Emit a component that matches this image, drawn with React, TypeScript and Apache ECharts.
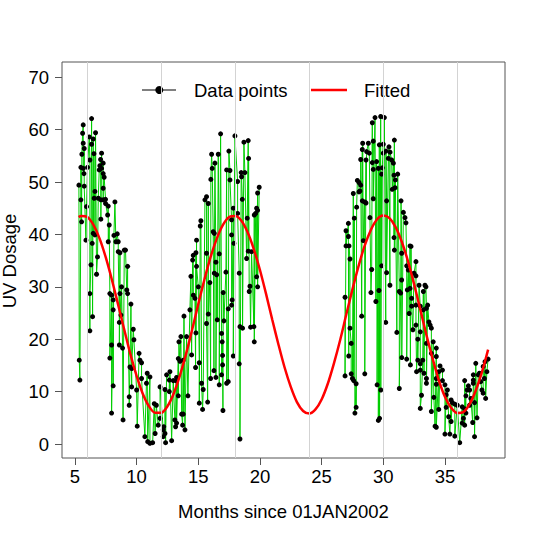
import React, { useEffect, useRef } from "react";
import * as echarts from "echarts";

// Measured UV dosage: [months since 01JAN2002, UV dosage]
const period1: [number, number][] = [
  [5.32, 49.4], [5.35, 16.0], [5.4, 12.2], [5.48, 46.6], [5.48, 52.8], [5.54, 42.4], [5.56, 55.3],
  [5.62, 59.3], [5.67, 60.9], [5.67, 57.4], [5.67, 52.6], [5.73, 51.6], [5.75, 56.4], [5.75, 49.2],
  [5.89, 38.9], [5.94, 45.3], [6.02, 52.8], [6.16, 58.6], [6.21, 54.2], [6.21, 21.6], [6.21, 28.7],
  [6.3, 34.2], [6.35, 62.1], [6.35, 57.2], [6.4, 38.3], [6.43, 24.3], [6.48, 58.2], [6.48, 40.2],
  [6.54, 55.4], [6.56, 46.9], [6.62, 48.2], [6.62, 39.9], [6.67, 59.4], [6.75, 32.4], [6.83, 35.7],
  [6.89, 46.9], [6.97, 52.3], [7.02, 53.1], [7.08, 54.3], [7.1, 46.6], [7.1, 42.9], [7.16, 55.5],
  [7.16, 52.6], [7.29, 53.6], [7.29, 51.6], [7.29, 46.6], [7.29, 48.8], [7.37, 50.9], [7.48, 46.7],
  [7.48, 45.9], [7.65, 43.7], [7.7, 45.4], [7.7, 38.6], [7.78, 41.8], [7.83, 28.7], [7.83, 16.4],
  [7.97, 28.4], [7.97, 18.9], [7.97, 5.9], [8.1, 27.5], [8.1, 25.6], [8.1, 11.1], [8.16, 39.8],
  [8.24, 46.2], [8.32, 38.6], [8.43, 40.1], [8.51, 38.6], [8.51, 36.7], [8.6, 23.2], [8.6, 18.9],
  [8.65, 36.5], [8.65, 28.7], [8.73, 24.6], [8.78, 30.0], [8.86, 18.3], [8.9, 4.6], [9.0, 37.0],
  [9.1, 37.0], [9.2, 29.4], [9.27, 33.9], [9.27, 28.7], [9.4, 9.0], [9.4, 7.4], [9.46, 14.7],
  [9.54, 26.7], [9.6, 10.9], [9.6, 14.4], [9.73, 21.9], [9.78, 19.9], [10.0, 10.3], [10.05, 3.4],
  [10.2, 17.3], [10.27, 16.0], [10.4, 15.5], [10.4, 12.5], [10.67, 1.4], [10.8, 11.6], [10.86, 13.5],
  [10.9, 0.45], [11.08, 12.8], [11.08, 0.13], [11.3, 0.25], [11.43, 7.7], [11.5, 2.0], [11.6, 7.4],
  [11.75, 3.6], [11.9, 4.9], [11.9, 10.9], [12.16, 2.7], [12.16, 1.4], [12.2, 3.3], [12.3, 2.0],
  [12.3, 10.4], [12.35, 0.25], [12.43, 13.2], [12.65, 12.2], [12.65, 10.0], [12.7, 13.8], [12.84, 0.63],
  [12.97, 12.1], [13.1, 4.6], [13.16, 3.3], [13.19, 12.1], [13.24, 12.7], [13.24, 4.0], [13.38, 16.3],
  [13.38, 9.2], [13.43, 19.5], [13.51, 15.8], [13.59, 20.5], [13.65, 5.7], [13.73, 3.6], [13.78, 16.0],
  [13.78, 5.7], [13.84, 24.4], [13.92, 2.7], [14.05, 20.5], [14.16, 9.2], [14.32, 25.6], [14.4, 32.0],
  [14.46, 17.0], [14.54, 35.1], [14.59, 36.0], [14.6, 28.4], [14.73, 27.8], [14.78, 14.6], [14.81, 36.5],
  [14.81, 21.2], [14.86, 38.9], [14.86, 33.9], [15.0, 30.0], [15.08, 15.5], [15.08, 7.8], [15.16, 41.6],
  [15.21, 42.6], [15.27, 11.6], [15.35, 6.6], [15.4, 10.4], [15.54, 46.6], [15.67, 47.2], [15.67, 36.4],
  [15.67, 23.0], [15.76, 8.0], [15.81, 45.9], [15.81, 24.8], [15.94, 30.8], [16.0, 12.5], [16.02, 50.5],
  [16.08, 55.3], [16.13, 52.6], [16.21, 40.5], [16.27, 14.0], [16.3, 40.2], [16.3, 32.6], [16.35, 53.6],
  [16.43, 34.7], [16.43, 12.7], [16.49, 32.3], [16.54, 23.7], [16.62, 55.3], [16.7, 36.3], [16.7, 11.3],
  [16.81, 59.2], [16.89, 21.1], [16.89, 13.2], [16.94, 19.5], [16.97, 16.9], [16.97, 15.1], [17.0, 6.4],
  [17.02, 28.9], [17.08, 23.5], [17.24, 32.8], [17.3, 52.3], [17.3, 11.6], [17.43, 25.8], [17.43, 11.9],
  [17.48, 55.9], [17.57, 52.2], [17.57, 50.4], [17.7, 42.8], [17.7, 39.9], [17.7, 26.5], [17.75, 27.5],
  [17.84, 45.0], [17.84, 16.8], [17.89, 38.3], [17.97, 58.8], [18.19, 50.1], [18.19, 44.0], [18.32, 32.6],
  [18.32, 15.3], [18.38, 22.4], [18.38, 0.95], [18.48, 51.8], [18.51, 51.0], [18.57, 46.7], [18.59, 22.1],
  [18.7, 57.6], [18.78, 51.8], [18.92, 35.4], [18.97, 43.1], [19.05, 57.9], [19.05, 36.8], [19.08, 54.5],
  [19.13, 29.1], [19.19, 30.1], [19.24, 22.3], [19.32, 36.7], [19.51, 22.4], [19.54, 43.7], [19.54, 19.5],
  [19.65, 44.0], [19.73, 45.0], [19.73, 31.9], [19.81, 47.9], [19.81, 44.6], [19.81, 30.0], [19.94, 49.0],
];

const period2: [number, number][] = [
  [26.9, 28.0], [26.9, 13.0], [26.98, 40.7], [26.98, 37.8], [27.17, 42.1], [27.17, 39.6], [27.2, 16.8],
  [27.22, 37.8], [27.3, 35.3], [27.3, 22.1], [27.4, 19.2], [27.4, 13.4], [27.5, 12.5], [27.57, 47.8],
  [27.6, 12.1], [27.65, 43.1], [27.7, 5.9], [27.8, 11.5], [27.8, 7.0], [27.84, 45.2], [27.9, 50.3],
  [28.03, 49.9], [28.03, 48.1], [28.11, 48.3], [28.17, 49.4], [28.17, 54.3], [28.25, 24.4], [28.3, 56.2],
  [28.3, 46.4], [28.33, 57.4], [28.38, 38.8], [28.49, 46.2], [28.5, 13.4], [28.6, 54.2], [28.6, 46.0],
  [28.65, 55.8], [28.79, 57.4], [28.87, 55.5], [28.92, 43.2], [29.0, 28.9], [29.06, 33.3], [29.11, 61.3],
  [29.11, 53.7], [29.19, 57.8], [29.19, 52.4], [29.19, 46.8], [29.33, 62.3], [29.4, 27.2], [29.46, 53.9],
  [29.5, 11.3], [29.6, 52.6], [29.6, 4.5], [29.65, 29.3], [29.68, 57.1], [29.7, 4.9], [29.79, 62.5],
  [29.8, 10.3], [29.87, 51.5], [29.87, 34.0], [29.92, 52.7], [30.0, 57.2], [30.0, 55.5], [30.09, 62.3],
  [30.2, 23.2], [30.22, 55.9], [30.27, 46.4], [30.27, 32.7], [30.41, 54.5], [30.46, 56.7], [30.54, 30.3],
  [30.55, 55.7], [30.68, 54.2], [30.73, 48.6], [30.82, 53.6], [30.87, 51.3], [30.87, 39.4], [30.9, 58.0],
  [30.9, 37.0], [30.95, 48.9], [30.98, 50.4], [31.1, 21.3], [31.17, 51.5], [31.3, 29.1], [31.3, 10.6],
  [31.41, 28.8], [31.44, 46.4], [31.49, 36.4], [31.49, 31.3], [31.5, 16.5], [31.63, 44.2], [31.76, 43.2],
  [31.84, 42.2], [31.9, 34.0], [31.9, 16.2], [31.95, 29.4], [32.03, 33.2], [32.1, 24.9], [32.17, 37.8],
  [32.17, 29.7], [32.2, 15.1], [32.25, 37.7], [32.3, 27.8], [32.3, 26.3], [32.4, 21.8], [32.49, 32.6],
  [32.65, 34.8], [32.65, 32.1], [32.65, 26.5], [32.65, 22.7], [32.7, 13.8], [32.8, 20.0], [32.8, 16.0],
  [32.9, 30.3], [33.0, 26.3], [33.0, 21.4], [33.0, 15.3], [33.0, 14.1], [33.0, 6.8], [33.1, 9.3],
  [33.2, 16.0], [33.25, 29.1], [33.25, 25.6], [33.3, 13.5], [33.38, 30.3], [33.46, 30.0], [33.5, 25.9],
  [33.5, 19.2], [33.5, 12.5], [33.5, 11.6], [33.6, 26.5], [33.7, 23.3], [33.8, 22.7], [33.9, 22.1],
  [33.9, 17.3], [33.9, 6.2], [34.05, 19.5], [34.1, 8.9], [34.2, 3.4], [34.3, 18.3], [34.3, 16.7],
  [34.3, 12.5], [34.3, 11.4], [34.3, 3.2], [34.5, 13.8], [34.5, 6.6], [34.6, 14.9], [34.8, 14.1],
  [34.8, 12.1], [35.0, 11.3], [35.0, 1.9], [35.1, 9.4], [35.1, 7.0], [35.2, 10.3], [35.3, 5.2],
  [35.4, 1.9], [35.5, 8.4], [35.5, 4.3], [35.6, 7.9], [35.8, 7.6], [35.8, 1.5], [36.0, 7.4],
  [36.2, 0.25], [36.4, 7.1], [36.4, 4.0], [36.5, 4.9], [36.6, 6.7], [36.6, 3.6], [36.6, 12.1],
  [36.7, 5.9], [36.7, 9.2], [36.8, 10.3], [36.9, 11.1], [37.0, 10.3], [37.0, 7.4], [37.1, 8.7],
  [37.25, 4.1], [37.3, 11.6], [37.3, 12.2], [37.3, 13.2], [37.4, 7.9], [37.4, 1.4], [37.5, 15.4],
  [37.6, 5.0], [37.7, 13.2], [37.8, 13.5], [37.9, 11.9], [38.0, 10.3], [38.1, 9.7], [38.1, 14.8],
  [38.2, 12.5], [38.25, 15.7], [38.3, 8.7], [38.4, 13.8], [38.5, 16.2],
];

// Fitted curve
const fitX = [
  5.3, 5.5, 6, 6.5, 7, 7.5, 8, 8.5, 9, 9.5, 10, 10.5, 11, 11.5, 12, 12.5, 13, 13.5, 14, 14.5,
  15, 15.5, 16, 16.5, 17, 17.5, 18, 18.5, 19, 19.5, 20, 20.5, 21, 21.5, 22, 22.5, 23, 23.5, 24,
  24.5, 25, 25.5, 26, 26.5, 27, 27.5, 28, 28.5, 29, 29.5, 30, 30.5, 31, 31.5, 32, 32.5, 33, 33.5,
  34, 34.5, 35, 35.5, 36, 36.5, 37, 37.5, 38, 38.5,
];
const fitY = [
  43.3, 43.5, 43.3, 41.8, 39.2, 35.6, 31.3, 26.6, 21.8, 17.1, 13.0, 9.6, 7.2, 5.95, 5.96, 7.2,
  9.6, 13.0, 17.1, 21.8, 26.7, 31.4, 35.7, 39.2, 41.8, 43.3, 43.5, 42.6, 40.4, 37.2, 33.2, 28.6,
  23.7, 19.0, 14.6, 10.9, 8.0, 6.3, 5.8, 6.6, 8.5, 11.5, 15.4, 19.8, 24.7, 29.5, 34.0, 37.9, 40.9,
  42.9, 43.6, 43.1, 41.4, 38.6, 34.9, 30.5, 25.7, 20.8, 16.3, 12.2, 9.0, 6.9, 5.9, 6.1, 7.6, 10.2,
  13.7, 18.0,
];

const xTicks = [5, 10, 15, 20, 25, 30, 35];
const yTicks = [0, 10, 20, 30, 40, 50, 60, 70];
const yearMarks = [6, 12, 18, 24, 30, 36];

const FONT = "'Liberation Sans', Arial, Helvetica, sans-serif";
const GREEN = "#00CD00";

export default function App() {
  const ref = useRef<HTMLDivElement>(null);
  useEffect(() => {
    if (!ref.current) return;
    const chart = echarts.init(ref.current, null, { renderer: "svg" });
    const fitData = fitX.map((x, i) => [x, fitY[i]]);
    const dataSeries = (d: [number, number][]) => ({
      type: "line",
      data: d,
      z: 2,
      symbol: "circle",
      symbolSize: 5,
      showSymbol: true,
      showAllSymbol: true,
      itemStyle: { color: "#000", borderWidth: 0 },
      lineStyle: { color: GREEN, width: 1 },
      emphasis: { disabled: true },
    });
    chart.setOption({
      animation: false,
      textStyle: { fontFamily: FONT },
      grid: {
        left: 62, right: 32, top: 62, bottom: 79,
        show: true, borderColor: "#555", borderWidth: 1, backgroundColor: "transparent",
      },
      xAxis: {
        type: "value", min: 3.95, max: 39.87,
        axisLine: { show: false, onZero: false },
        splitLine: { show: false },
        axisTick: { show: true, customValues: xTicks, length: 7, lineStyle: { color: "#555" } },
        axisLabel: { customValues: xTicks, margin: 9, fontSize: 18.5, color: "#000", fontFamily: FONT },
      },
      yAxis: {
        type: "value", min: -2.67, max: 72.9,
        axisLine: { show: false, onZero: false },
        splitLine: { show: false },
        axisTick: { show: true, customValues: yTicks, length: 7, lineStyle: { color: "#555" } },
        axisLabel: { customValues: yTicks, margin: 13, fontSize: 18.5, color: "#000", fontFamily: FONT },
      },
      series: [
        dataSeries(period1),
        dataSeries(period2),
        {
          type: "line",
          data: fitData,
          z: 3,
          showSymbol: false,
          lineStyle: { opacity: 0 },
          emphasis: { disabled: true },
          markLine: {
            silent: true,
            symbol: "none",
            label: { show: false },
            lineStyle: { color: "#d3d3d3", width: 1, type: "solid" },
            data: yearMarks.map((m) => ({ xAxis: m })),
          },
        },
        {
          type: "line",
          data: fitData,
          z: 4,
          smooth: 0.3,
          showSymbol: false,
          lineStyle: { color: "#FF0000", width: 2.5 },
          emphasis: { disabled: true },
        },
      ],
      graphic: [
        { type: "line", z: 1, shape: { x1: 142, y1: 90, x2: 176, y2: 90 }, style: { stroke: "#000", lineWidth: 1 } },
        { type: "circle", z: 1, shape: { cx: 159.3, cy: 90, r: 4 }, style: { fill: "#000" } },
        { type: "text", z: 1, x: 194, y: 90, style: { text: "Data points", fill: "#000", font: `18.5px ${FONT}`, textAlign: "left", textVerticalAlign: "middle" } },
        { type: "line", z: 1, shape: { x1: 311, y1: 90, x2: 347, y2: 90 }, style: { stroke: "#FF0000", lineWidth: 2.5 } },
        { type: "text", z: 1, x: 364, y: 90, style: { text: "Fitted", fill: "#000", font: `18.5px ${FONT}`, textAlign: "left", textVerticalAlign: "middle" } },
        { type: "text", x: 283.5, y: 511, style: { text: "Months since 01JAN2002", fill: "#000", font: `18.5px ${FONT}`, textAlign: "center", textVerticalAlign: "middle" } },
        { type: "text", x: 9, y: 261, rotation: Math.PI / 2, style: { text: "UV Dosage", fill: "#000", font: `18.5px ${FONT}`, textAlign: "center", textVerticalAlign: "middle" } },
      ],
    });
    return () => chart.dispose();
  }, []);
  return <div ref={ref} style={{ position: "absolute", left: 0, top: 0, width: 537, height: 537 }} />;
}
